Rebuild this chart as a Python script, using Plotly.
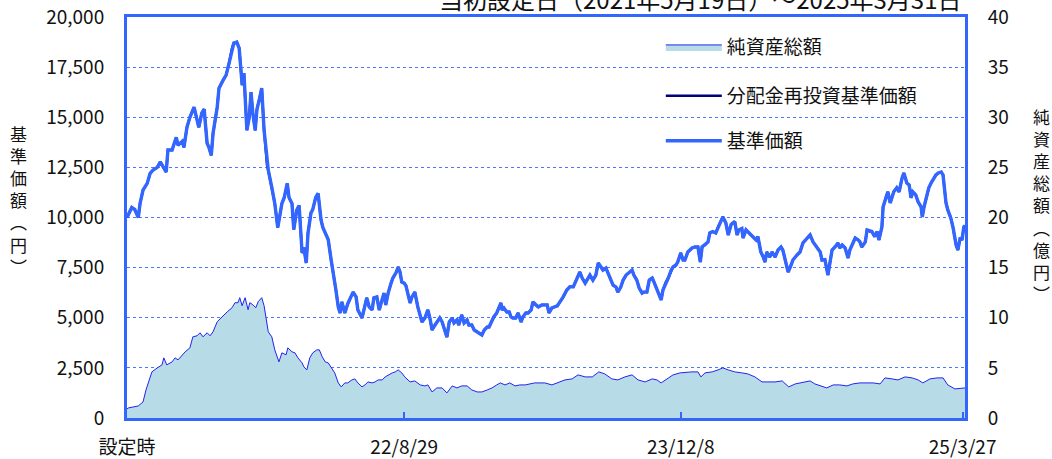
import pandas as pd
import plotly.graph_objects as go

START = "2021-05-19"

# 基準価額 (円): days since inception / value
nav_days = [0, 8, 13, 19, 22, 27, 34, 39, 44, 51, 56, 61, 66, 69, 76, 83, 86, 93, 96, 101,
            106, 113, 118, 121, 126, 130, 135, 138, 142, 145, 152, 155, 162, 167, 172, 177, 180, 185, 189, 194,
            197, 202, 206, 209, 212, 216, 219, 224, 227, 231, 236, 238, 244, 249, 254, 261, 265, 270, 273, 278,
            281, 286, 290, 295, 298, 302, 305, 310, 313, 318, 322, 327, 330, 335, 339, 344, 347, 352, 356, 359,
            362, 367, 372, 377, 381, 386, 389, 396, 399, 404, 408, 413, 416, 421, 425, 430, 433, 436, 440, 445,
            448, 453, 457, 460, 463, 467, 470, 473, 477, 480, 485, 490, 494, 497, 502, 507, 511, 514, 519, 524,
            527, 531, 536, 539, 543, 548, 551, 556, 559, 564, 568, 573, 576, 581, 585, 590, 593, 598, 602, 607,
            610, 615, 618, 623, 627, 630, 632, 635, 640, 644, 647, 650, 655, 659, 664, 667, 672, 676, 681, 684,
            689, 693, 699, 703, 708, 711, 716, 725, 730, 735, 741, 746, 752, 757, 760, 763, 767, 772, 777, 780,
            785, 790, 794, 799, 802, 807, 810, 816, 819, 824, 827, 832, 836, 841, 846, 851, 854, 859, 863, 868,
            871, 876, 880, 885, 888, 893, 896, 900, 903, 908, 912, 917, 920, 925, 928, 933, 937, 940, 945, 952,
            957, 962, 966, 969, 974, 979, 982, 987, 992, 996, 1001, 1004, 1009, 1013, 1018, 1021, 1024, 1028, 1031, 1036,
            1038, 1043, 1046, 1051, 1055, 1060, 1063, 1068, 1072, 1075, 1078, 1083, 1087, 1092, 1097, 1102, 1105, 1110, 1114, 1119,
            1122, 1129, 1134, 1139, 1146, 1151, 1156, 1163, 1168, 1171, 1176, 1181, 1185, 1188, 1193, 1198, 1201, 1205, 1210, 1215,
            1218, 1222, 1227, 1232, 1235, 1238, 1244, 1247, 1252, 1255, 1260, 1264, 1267, 1272, 1274, 1279, 1282, 1286, 1289, 1292,
            1297, 1301, 1306, 1309, 1314, 1318, 1321, 1324, 1329, 1333, 1338, 1340, 1343, 1348, 1351, 1355, 1358, 1363, 1367, 1372,
            1375, 1380, 1383, 1388, 1392, 1397, 1400, 1404, 1407, 1410, 1412]
nav_vals = [10000, 10500, 10400, 10000, 10700, 11370, 11700, 12200, 12370, 12500, 12770, 12500, 12270, 13370, 13370, 14000, 13600, 13800, 13500, 14500,
            15000, 15500, 14950, 14500, 15200, 15400, 13700, 13500, 13100, 14200, 15500, 16450, 16850, 17100, 17700, 18450, 18700, 18750, 18450, 16600,
            17200, 14350, 15000, 16250, 15200, 14350, 15400, 16000, 16450, 14350, 12600, 12370, 11500, 10700, 9500, 10700, 11000, 11700, 11000, 10700,
            9400, 10370, 10600, 8230, 8500, 7730, 9230, 10230, 10400, 11000, 11200, 9870, 9500, 9130, 8900, 7880, 7380, 6380, 5540, 5240,
            5790, 5240, 5700, 6040, 6280, 6040, 5390, 4990, 5320, 5990, 5540, 5390, 5990, 6040, 5390, 5890, 6230, 5640, 6230, 6730,
            6980, 7230, 7530, 7280, 6780, 6730, 6600, 6230, 5740, 6030, 6280, 5540, 5040, 4790, 4990, 5390, 4890, 4390, 4640, 4890,
            4990, 4790, 4240, 4040, 4790, 4990, 4740, 4890, 4640, 5140, 4740, 4890, 4640, 4640, 4390, 4290, 4240, 4140, 4390, 4540,
            4540, 4890, 5040, 5240, 5540, 5740, 5390, 5490, 5290, 5290, 5040, 4990, 4990, 5240, 4790, 5040, 5240, 5240, 5390, 5790,
            5640, 5540, 5640, 5640, 5640, 5240, 5490, 5590, 5790, 6040, 6380, 6540, 6540, 6880, 7130, 7280, 6980, 6730, 6980, 7130,
            6880, 7130, 7730, 7480, 7380, 7480, 7280, 6880, 6630, 6530, 6280, 6530, 6880, 7130, 7280, 7380, 7130, 6880, 6480, 6230,
            6280, 6280, 6880, 6980, 6780, 6380, 6130, 5890, 6380, 6780, 6980, 7380, 7530, 7630, 7780, 8230, 7880, 7880, 8280, 8480,
            8530, 8530, 7780, 8530, 8630, 8780, 9230, 9300, 9230, 9530, 9870, 10030, 9730, 9130, 9650, 9730, 9800, 9130, 9380, 9450,
            8980, 9380, 9300, 9130, 9050, 8880, 9050, 8280, 8030, 7780, 8280, 8030, 8280, 8030, 8380, 8530, 8380, 7780, 7280, 7630,
            7880, 8130, 8280, 8730, 8980, 9130, 8780, 8480, 8280, 7880, 7900, 7130, 7880, 8380, 8530, 8730, 8480, 8630, 8480, 7980,
            8380, 8630, 8980, 8880, 8780, 8530, 8780, 9380, 9300, 9300, 9050, 9300, 8880, 9530, 10530, 11030, 11280, 10730, 11030, 11280,
            11480, 11280, 11970, 12220, 11720, 11620, 10980, 11280, 11130, 10780, 10530, 10030, 10530, 11130, 11480, 11730, 11870, 12120, 12220, 12270,
            12120, 10730, 10380, 9980, 9480, 8630, 8380, 9000, 8880, 9530, 9600]

# 純資産総額 (億円): days since inception / value
aum_days = [0, 2, 19, 27, 32, 35, 42, 51, 59, 62, 67, 76, 81, 86, 93, 98, 106, 111, 118, 123,
            128, 135, 140, 145, 152, 160, 169, 177, 182, 187, 190, 194, 199, 204, 207, 212, 217, 221, 227, 231,
            236, 238, 244, 249, 256, 261, 268, 271, 278, 283, 288, 295, 298, 303, 308, 313, 320, 324, 329, 334,
            339, 345, 350, 356, 361, 367, 372, 379, 384, 389, 396, 401, 406, 413, 418, 423, 430, 435, 440, 447,
            452, 457, 463, 468, 477, 485, 494, 502, 507, 514, 522, 531, 539, 548, 556, 564, 573, 581, 590, 598,
            607, 615, 623, 629, 637, 645, 654, 662, 671, 679, 687, 696, 704, 716, 726, 738, 750, 760, 772, 784,
            795, 805, 817, 827, 839, 851, 861, 873, 885, 893, 900, 910, 920, 932, 944, 952, 962, 967, 974, 986,
            996, 1004, 1013, 1024, 1036, 1046, 1058, 1070, 1080, 1092, 1104, 1108, 1115, 1126, 1137, 1151, 1159, 1171, 1179, 1190,
            1201, 1213, 1223, 1235, 1247, 1257, 1269, 1277, 1289, 1299, 1311, 1323, 1333, 1341, 1353, 1365, 1375, 1383, 1395, 1407,
            1412]
aum_vals = [0.9, 1.0, 1.2, 1.6, 2.8, 3.3, 4.6, 5.0, 5.3, 6.0, 5.3, 5.6, 6.0, 5.8, 6.3, 6.6, 7.0, 8.1, 8.2, 8.5,
            8.1, 8.5, 8.2, 8.6, 9.6, 10.1, 10.6, 11.0, 11.5, 11.5, 12.0, 11.2, 12.0, 10.8, 11.5, 11.3, 11.0, 11.6, 12.0, 11.2,
            9.0, 8.6, 8.1, 6.8, 5.6, 6.5, 6.3, 7.0, 6.6, 6.5, 6.0, 5.5, 5.1, 4.8, 6.0, 6.5, 6.8, 6.8, 6.1, 5.6,
            5.5, 5.0, 4.5, 3.5, 3.1, 3.5, 3.5, 3.8, 3.9, 3.5, 3.1, 3.3, 3.6, 3.5, 3.6, 3.8, 3.8, 4.1, 4.3, 4.5,
            4.6, 4.8, 4.5, 4.1, 3.6, 3.7, 3.3, 3.2, 3.3, 2.6, 3.0, 3.0, 2.5, 3.2, 3.0, 3.2, 3.2, 2.8, 2.6, 2.6,
            2.8, 3.0, 3.3, 3.5, 3.3, 3.5, 3.2, 3.3, 3.3, 3.4, 3.5, 3.5, 3.5, 3.3, 3.5, 3.8, 3.9, 4.3, 4.1, 4.1,
            4.6, 4.4, 3.9, 3.8, 4.1, 4.3, 3.8, 3.6, 3.9, 3.8, 3.5, 3.9, 4.3, 4.5, 4.6, 4.6, 4.6, 4.1, 4.5, 4.6,
            4.8, 5.0, 4.8, 4.6, 4.5, 4.4, 4.1, 3.6, 3.6, 3.6, 3.7, 3.5, 3.1, 3.4, 3.5, 3.7, 3.4, 3.2, 3.0, 3.3,
            3.3, 3.2, 3.4, 3.5, 3.5, 3.5, 3.4, 4.0, 3.9, 3.8, 4.1, 4.0, 3.8, 3.5, 3.9, 4.0, 4.0, 3.3, 2.9, 3.0,
            3.0]

tick_dates = ["2021-05-19", "2022-08-29", "2023-12-08", "2025-03-27"]
tick_labels = ["設定時", "22/8/29", "23/12/8", "25/3/27"]
y_ticks = [0, 2500, 5000, 7500, 10000, 12500, 15000, 17500, 20000]
y2_ticks = [0, 5, 10, 15, 20, 25, 30, 35, 40]

start = pd.Timestamp(START)
nav_x = start + pd.to_timedelta(nav_days, unit="D")
aum_x = start + pd.to_timedelta(aum_days, unit="D")

BLUE = "#3366FF"
FONT = "Noto Sans CJK JP"

fig = go.Figure()
fig.add_trace(go.Scatter(x=aum_x, y=aum_vals, name="純資産総額", yaxis="y2",
                         mode="lines", fill="tozeroy", fillcolor="#B7DCE7",
                         line=dict(color="#2222EE", width=1), legend="legend"))
fig.add_trace(go.Scatter(x=nav_x, y=nav_vals, name="分配金再投資基準価額",
                         mode="lines", line=dict(color="#000080", width=2.5), legend="legend2"))
fig.add_trace(go.Scatter(x=nav_x, y=nav_vals, name="基準価額",
                         mode="lines", line=dict(color=BLUE, width=3.4), legend="legend3"))

leg = dict(bgcolor="rgba(0,0,0,0)", font=dict(family=FONT, size=19, color="#111"),
           xanchor="left", yanchor="middle", itemwidth=56)
tickfont = dict(family=FONT, size=19, color="#111")
fig.update_layout(
    width=1052, height=459,
    margin=dict(l=127, r=87, t=17, b=41, autoexpand=False),
    paper_bgcolor="white", plot_bgcolor="white",
    font=dict(family=FONT, color="#111"),
    showlegend=True,
    legend=dict(leg, x=0.637, y=0.925),
    legend2=dict(leg, x=0.637, y=0.803),
    legend3=dict(leg, x=0.637, y=0.691),
    xaxis=dict(type="date", range=[start, pd.Timestamp("2025-03-31")],
               tickvals=tick_dates, ticktext=tick_labels,
               ticks="inside", ticklen=6, tickwidth=2, tickcolor=BLUE,
               showgrid=False, showline=True, linecolor=BLUE, linewidth=3, mirror=True,
               tickfont=tickfont, ticklabelstandoff=10, zeroline=False, automargin=False),
    yaxis=dict(range=[0, 20000], tickvals=y_ticks, ticktext=[f"{v:,}" for v in y_ticks],
               showgrid=True, gridcolor="#4A78FF", griddash="3px,3px", gridwidth=1,
               showline=True, linecolor=BLUE, linewidth=3, zeroline=False,
               tickfont=tickfont, ticklabelstandoff=16, automargin=False),
    yaxis2=dict(range=[0, 40], tickvals=y2_ticks, overlaying="y", side="right",
                showgrid=False, showline=True, linecolor=BLUE, linewidth=3, zeroline=False,
                tickfont=tickfont, ticklabelstandoff=16, automargin=False),
)

fig.add_annotation(text="当初設定日（2021年5月19日）～2025年3月31日", xref="paper", yref="paper",
                   x=0.9975, y=1.045, xanchor="right", yanchor="middle", showarrow=False,
                   font=dict(family=FONT, size=24, color="#111"))
fig.add_annotation(text="<br>".join(list("基準価額︵円︶")), xref="paper", yref="paper",
                   x=-0.130, y=0.544, xanchor="center", yanchor="middle", showarrow=False,
                   font=dict(family=FONT, size=17, color="#111"))
fig.add_annotation(text="<br>".join(list("純資産総額︵億円︶")), xref="paper", yref="paper",
                   x=1.091, y=0.531, xanchor="center", yanchor="middle", showarrow=False,
                   font=dict(family=FONT, size=17, color="#111"))

fig.write_html("out.html", config={"displayModeBar": False},
               post_script="document.body.style.margin='0';document.body.style.overflow='hidden';")
